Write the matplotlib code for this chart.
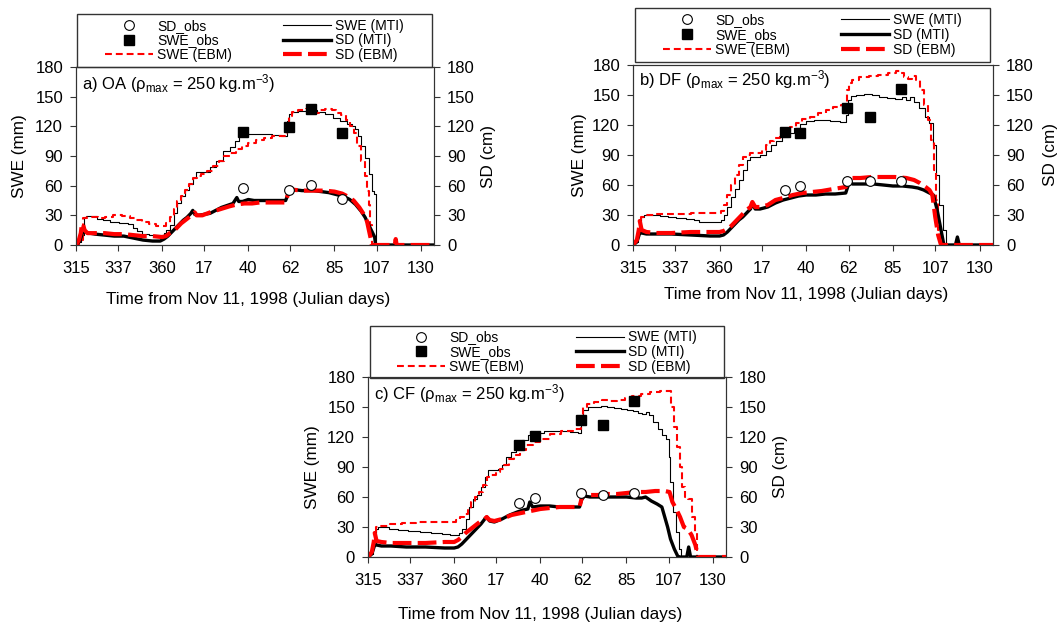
import matplotlib
matplotlib.use("Agg")
import matplotlib.pyplot as plt
from matplotlib.patches import Rectangle

plt.rcParams["font.family"] = ["Liberation Sans", "DejaVu Sans"]
plt.rcParams["mathtext.fontset"] = "custom"
plt.rcParams["mathtext.rm"] = "Liberation Sans"
plt.rcParams["mathtext.it"] = "Liberation Sans:italic"

# x values are days counted from Nov 11, 1998 (Julian day 315)
tick_days = [315, 337, 360, 17, 40, 62, 85, 107, 130]

# ---- a) OA ----
oa_obs_t = [87, 111, 123, 139]
oa_swe_obs = [114, 119, 138, 113]
oa_sd_obs = [58, 56, 61, 47]

oa_swe_mti_t = [0, 2, 3.5, 4.5, 6, 10, 12, 16, 20, 25, 29, 31, 33, 36, 40, 45, 46.5, 48, 50, 52, 54, 56, 58,
                60, 62, 63.5, 69, 71, 75, 78.5, 82, 84, 86, 90, 100, 105, 109.5, 110.5, 112, 114, 118, 122,
                124, 128, 132, 136, 140, 143, 145, 146.5, 148, 150, 152, 154, 155.5, 156, 157, 187]
oa_swe_mti = [0, 3, 10, 28, 29, 29, 26, 25, 23, 22, 21, 17, 14, 11, 10, 10, 12, 15, 20, 32, 42, 50, 56,
              62, 68, 74, 74, 79, 85, 95, 99, 105, 110, 112, 112, 111, 110, 125, 132, 135, 136, 136,
              137, 135, 132, 128, 125, 122, 120, 117, 110, 100, 88, 72, 55, 52, 0, 0]
oa_swe_ebm_t = [0, 3, 4.5, 7, 10, 13, 17, 22, 26, 30, 33, 36, 40, 44, 46, 48, 50, 52, 54, 56, 58, 60, 62,
                64, 67, 70, 73, 76, 79, 82, 85, 88, 92, 96, 100, 105, 109.5, 110.5, 112, 114, 118, 122,
                124, 126, 128, 132, 135, 137, 140, 142, 144, 146, 148, 150, 151.5, 152.5, 153.5, 154, 155, 187]
oa_swe_ebm = [0, 5, 27, 28, 28, 27, 28, 30, 29, 27, 25, 23, 21, 19, 19, 22, 28, 36, 44, 50, 56, 62, 68,
              70, 72, 75, 80, 85, 90, 93, 97, 100, 103, 106, 108, 110, 110, 122, 130, 135, 137, 138,
              136, 133, 137, 138, 137, 133, 131, 126, 120, 113, 100, 85, 70, 55, 40, 20, 0, 0]
oa_sd_mti_t = [0, 2, 3, 3.5, 4.5, 7, 10, 15, 20, 25, 30, 35, 40, 44, 46, 48, 50, 52, 54, 56, 58, 60, 61,
               62, 64, 67, 70, 73, 76, 79, 82, 84, 85, 87, 90, 93, 100, 109.5, 110.5, 112, 114, 118, 124,
               128, 132, 136, 140, 143, 146, 149, 151, 153, 155, 156, 156.5, 187]
oa_sd_mti = [0, 4, 10, 15, 13, 12, 11, 10, 9, 9, 7, 5, 4, 4, 6, 9, 13, 17, 21, 25, 28, 32, 35,
             31, 30, 31, 32, 35, 38, 40, 42, 48, 44, 44, 46, 45, 45, 45, 50, 55, 56, 55, 55,
             54, 53, 51, 49, 46, 41, 34, 28, 20, 12, 8, 0, 0]
oa_sd_ebm_t = [0, 1.5, 2.5, 3, 3.5, 4.5, 6, 10, 15, 20, 25, 30, 35, 40, 45, 47, 49, 51, 53, 55, 57, 59,
               61, 62, 63, 66, 70, 75, 80, 84, 88, 92, 96, 100, 109.5, 110.5, 112, 113, 118, 124, 130,
               135, 139, 142, 145, 148, 150, 152, 153, 154, 154.5, 166.5, 167, 167.5, 187]
oa_sd_ebm = [0, 5, 12, 20, 22, 15, 12, 12, 12, 11, 11, 10, 9, 9, 8, 9, 12, 14, 18, 22, 25, 28,
             31, 33, 30, 30, 33, 36, 39, 41, 42, 42, 43, 43, 43, 50, 58, 56, 55, 55, 55,
             54, 52, 49, 45, 38, 32, 24, 15, 6, 0, 0, 6, 0, 0]

# ---- b) DF ----
df_obs_t = [79, 87, 111, 123, 139]
df_swe_obs = [113, 112, 137, 128, 156]
df_sd_obs = [55, 59, 64, 64, 64]

df_swe_mti_t = [0, 2, 3.5, 4.5, 7, 12, 16, 20, 25, 30, 33, 36, 40, 45, 46.5, 48, 50, 52, 54, 56, 58, 60,
                62, 64, 68, 70, 73, 76, 79, 82, 85, 88, 92, 96, 100, 105, 110, 111, 112.5, 114, 118, 122,
                126, 130, 134, 138, 141, 143, 145, 147, 150, 153, 155, 156.5, 158, 160, 162, 163, 167.5,
                168.5, 169.5, 187]
df_swe_mti = [0, 3, 12, 28, 30, 30, 29, 28, 27, 26, 25, 23, 23, 23, 25, 30, 38, 48, 56, 65, 75, 85,
              88, 88, 90, 94, 100, 104, 108, 112, 117, 121, 124, 125, 125, 124, 123, 130, 145, 149, 150, 151,
              150, 148, 147, 146, 148, 145, 148, 143, 137, 128, 122, 100, 70, 40, 15, 0, 0,
              7, 0, 0]
df_swe_ebm_t = [0, 2, 3.5, 4.5, 8, 15, 25, 35, 45, 46.5, 48, 50, 52, 54, 56, 58, 60, 62, 66, 68, 70, 72,
                75, 78, 80, 83, 86, 90, 94, 98, 102, 106, 110.5, 111.5, 113, 115, 120, 125, 130, 135, 138,
                140, 142, 144, 146, 148, 150, 152, 154, 155.5, 157, 158, 159, 160, 187]
df_swe_ebm = [0, 3, 12, 28, 30, 31, 31, 32, 32, 34, 40, 50, 60, 70, 80, 88, 90, 92, 92, 95, 100, 104,
              107, 110, 113, 118, 122, 126, 128, 132, 135, 138, 140, 155, 162, 165, 168, 169, 170, 172, 174,
              172, 168, 166, 169, 165, 155, 140, 125, 105, 75, 45, 15, 0, 0]
df_sd_mti_t = [0, 2, 3.5, 4.5, 7, 12, 20, 30, 40, 45, 47, 49, 51, 53, 55, 57, 59, 61, 62, 63.5, 66, 70,
               74, 78, 82, 86, 90, 95, 100, 105, 110.5, 111.5, 112.5, 114, 120, 125, 130, 135, 140, 145,
               148, 151, 154, 156, 158, 160, 161.5, 167.5, 168.5, 169.5, 187]
df_sd_mti = [0, 3, 12, 12, 11, 11, 11, 10, 9, 9, 10, 13, 17, 21, 25, 28, 32, 36, 41, 36, 36, 38,
             42, 45, 47, 49, 50, 50, 51, 51, 52, 58, 64, 61, 61, 61, 60, 59, 59, 58,
             57, 55, 52, 50, 35, 15, 0, 0, 8, 0, 0]
df_sd_ebm_t = [0, 2, 3, 3.5, 4.5, 7, 12, 20, 30, 40, 45, 47, 49, 51, 53, 55, 57, 59, 61, 62, 63.5, 66,
               70, 74, 78, 83, 88, 93, 98, 104, 110.5, 111.5, 112.5, 114, 118, 124, 130, 136, 142, 146,
               149, 152, 154, 155.5, 157, 158.5, 160, 187]
df_sd_ebm = [0, 5, 15, 24, 15, 13, 12, 12, 13, 13, 13, 14, 16, 19, 23, 27, 31, 35, 38, 43, 38, 38,
             40, 45, 47, 50, 52, 53, 54, 56, 58, 64, 70, 67, 67, 68, 68, 68, 67, 65,
             62, 58, 55, 50, 28, 10, 0, 0]

# ---- c) CF ----
cf_obs_t = [79, 87, 111, 123, 139]
cf_swe_obs = [112.5, 121, 137.5, 132.5, 156]
cf_sd_obs = [54.5, 59.5, 64.5, 62, 64.5]

cf_swe_mti_t = [0, 2, 3.5, 4.5, 6, 9, 13, 18, 24, 30, 36, 41, 45, 47, 48.5, 50, 52, 54, 56, 58, 60, 62,
                63, 67, 69, 71, 73.5, 76, 79, 82, 85, 89, 95, 102, 109, 110.5, 111.5, 113.5, 116, 120,
                123, 127, 130, 134, 137, 140, 142, 144, 146, 148, 150, 152.5, 155, 156.5, 157.5, 158.5,
                160, 161.5, 163, 164, 187]
cf_swe_mti = [0, 3, 12, 28, 30, 30, 28, 27, 26, 25, 24, 23, 22, 22, 24, 28, 38, 50, 58, 62, 70, 80,
              87, 87, 88, 92, 100, 105, 111, 117, 122, 124, 126, 126, 125, 124, 135, 147, 150, 150,
              151, 150, 149, 148, 147, 146, 144, 143, 145, 142, 135, 128, 122, 118, 100, 75,
              45, 25, 8, 0, 0]
cf_swe_ebm_t = [0, 2, 3.5, 4.5, 8, 15, 20, 30, 40, 45, 47, 49, 51, 53, 55, 57, 59, 61, 63, 66, 68, 70,
                72, 75, 78, 81, 84, 88, 92, 98, 104, 110.5, 111.5, 113, 116, 120, 124, 128, 132, 136, 140,
                145, 150, 155, 157.5, 159, 160.5, 162, 163.5, 165, 166.5, 168, 170, 171.5, 172.5, 187]
cf_swe_ebm = [0, 3, 12, 30, 31, 33, 34, 35, 35, 35, 37, 40, 43, 47, 55, 60, 65, 72, 80, 82, 85, 88,
              92, 98, 102, 107, 112, 115, 118, 123, 126, 128, 137, 150, 153, 155, 157, 156, 157, 159, 161,
              163, 165, 166, 166, 150, 130, 110, 90, 70, 60, 58, 40, 25, 0, 0]
cf_sd_mti_t = [0, 2, 3.5, 4.5, 7, 12, 20, 30, 40, 45, 47, 49, 51, 53, 55, 57, 59, 61, 62, 63.5, 66, 70,
               74, 78, 81, 83.5, 84.5, 86, 90, 95, 100, 105, 110.5, 111.5, 113, 116, 120, 125, 130, 135,
               140, 143, 145, 148, 151, 153.5, 155, 156.5, 158, 160, 162, 163, 166.5, 167.5, 168.5, 187]
cf_sd_mti = [0, 3, 12, 12, 11, 11, 10, 10, 9, 9, 10, 13, 17, 21, 25, 29, 33, 38, 40, 36, 35, 38,
             42, 45, 47, 48, 55, 50, 51, 51, 50, 50, 50, 57, 61, 60, 60, 60, 60, 60,
             59, 59, 60, 56, 53, 50, 40, 30, 18, 8, 0, 0, 0, 10, 0, 0]
cf_sd_ebm_t = [0, 2, 3, 3.5, 4.5, 7, 12, 20, 30, 40, 45, 47, 49, 51, 53, 55, 57, 59, 61, 62, 63.5, 66,
               70, 75, 80, 85, 90, 95, 100, 105, 110.5, 111.5, 112.5, 114, 120, 125, 130, 135, 140, 145,
               150, 155, 157.5, 159, 161, 163, 165, 167, 169, 171, 172.5, 187]
cf_sd_ebm = [0, 5, 15, 24, 16, 15, 14, 14, 14, 15, 15, 17, 20, 24, 27, 30, 33, 36, 38, 40, 37, 36,
             38, 42, 44, 46, 48, 49, 50, 50, 50, 58, 66, 62, 62, 63, 63, 64, 65, 65,
             66, 66, 65, 55, 48, 40, 30, 28, 22, 12, 0, 0]

W, H = 1060, 623
fig = plt.figure(figsize=(W / 100, H / 100), dpi=100)
spine_col = "#333333"


def panel(box_px, title, title_y, leg_box, ylab_x, xlab_y,
          obs_t, swe_obs, sd_obs, swe_mti, sd_mti, swe_ebm, sd_ebm):
    left, top, right, bottom = box_px
    ax = fig.add_axes([left / W, 1 - bottom / H, (right - left) / W, (bottom - top) / H])
    ax2 = ax.twinx()

    # SWE curves are daily model output -> staircase look
    h1, = ax.plot(*swe_mti, color="black", lw=0.8, drawstyle="steps-mid", label="SWE (MTI)")
    h2, = ax.plot(*swe_ebm, color="red", lw=1.5, dashes=(3.3, 1.9), drawstyle="steps-mid",
                  label="SWE (EBM)")
    h3, = ax.plot(obs_t, swe_obs, "s", color="black", ms=7.5, label="SWE_obs", zorder=5)
    h4, = ax2.plot(*sd_mti, color="black", lw=2.4, label="SD (MTI)")
    h5, = ax2.plot(*sd_ebm, color="red", lw=3, dashes=(4.5, 1.5), label="SD (EBM)")
    h6, = ax2.plot(obs_t, sd_obs, "o", mfc="white", mec="black", mew=0.8, ms=7,
                   label="SD_obs", zorder=6)

    ax.set_xlim(0, 187)
    for a in (ax, ax2):
        a.set_ylim(0, 180)
        a.set_yticks(range(0, 181, 30))
        a.tick_params(direction="out", length=4.3, width=0.8, labelsize=12, pad=5, color=spine_col)
        for s in a.spines.values():
            s.set_color(spine_col)
    ax.tick_params(axis="x", pad=7.5)
    ax.set_xticks([(d - 315) % 365 for d in tick_days])
    ax.set_xticklabels([str(d) for d in tick_days])

    ax.set_xlabel("Time from Nov 11, 1998 (Julian days)", fontsize=12.3)
    ax.xaxis.set_label_coords(0.5 * 180 / 187, xlab_y)
    ax.set_ylabel("SWE (mm)", fontsize=12.3)
    ax.yaxis.set_label_coords(ylab_x[0], 0.5)
    ax2.set_ylabel("SD (cm)", fontsize=12.3)
    ax2.yaxis.set_label_coords(ylab_x[1], 0.5)

    ax.text(0.016, title_y, title, transform=ax.transAxes, fontsize=12, va="baseline")

    x0, x1, y0, y1 = leg_box
    ax2.add_patch(Rectangle((x0, y0), x1 - x0, y1 - y0, transform=ax2.transAxes, clip_on=False,
                            fill=False, edgecolor=spine_col, lw=1))
    ax2.legend([h6, h3, h2, h1, h4, h5],
               ["SD_obs", "SWE_obs", "SWE (EBM)", "SWE (MTI)", "SD (MTI)", "SD (EBM)"],
               ncol=2, loc="center", bbox_to_anchor=((x0 + x1) / 2, (y0 + y1) / 2),
               frameon=False, fontsize=10, handlelength=3.45, handletextpad=0.3,
               columnspacing=3.7, labelspacing=0.05, borderpad=0, numpoints=1)


panel((76, 67, 434, 245), "a) OA (ρ$_{\\mathrm{max}}$ = 250 kg.m$^{\\mathrm{-3}}$)", 0.876,
      (0.003, 0.994, 1.0, 1.298), (-0.138, 1.130), -0.262,
      oa_obs_t, oa_swe_obs, oa_sd_obs, (oa_swe_mti_t, oa_swe_mti), (oa_sd_mti_t, oa_sd_mti),
      (oa_swe_ebm_t, oa_swe_ebm), (oa_sd_ebm_t, oa_sd_ebm))
panel((633, 65, 993, 245), "b) DF (ρ$_{\\mathrm{max}}$ = 250 kg.m$^{\\mathrm{-3}}$)", 0.889,
      (0.006, 0.992, 1.017, 1.317), (-0.129, 1.1375), -0.231,
      df_obs_t, df_swe_obs, df_sd_obs, (df_swe_mti_t, df_swe_mti), (df_sd_mti_t, df_sd_mti),
      (df_swe_ebm_t, df_swe_ebm), (df_sd_ebm_t, df_sd_ebm))
panel((368, 377, 726, 557), "c) CF (ρ$_{\\mathrm{max}}$ = 250 kg.m$^{\\mathrm{-3}}$)", 0.878,
      (0.006, 0.994, 0.994, 1.283), (-0.135, 1.130), -0.275,
      cf_obs_t, cf_swe_obs, cf_sd_obs, (cf_swe_mti_t, cf_swe_mti), (cf_sd_mti_t, cf_sd_mti),
      (cf_swe_ebm_t, cf_swe_ebm), (cf_sd_ebm_t, cf_sd_ebm))

fig.savefig("out.png", dpi=100, facecolor="white")
